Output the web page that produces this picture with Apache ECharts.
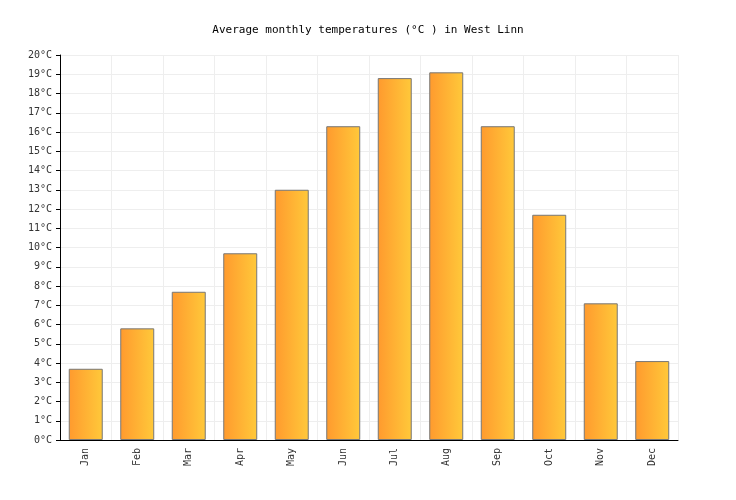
<!DOCTYPE html>
<html><head><meta charset="utf-8">
<script src="https://cdn.jsdelivr.net/npm/echarts@6/dist/echarts.min.js"></script>
<style>html,body{margin:0;padding:0;background:#fff}#c{width:736px;height:500px}</style>
</head><body><div id="c"></div>
<script>
const categories=["Jan","Feb","Mar","Apr","May","Jun","Jul","Aug","Sep","Oct","Nov","Dec"];
const temps=[3.7,5.8,7.7,9.7,13.0,16.3,18.8,19.1,16.3,11.7,7.1,4.1];
const titleText="Average monthly temperatures (°C ) in West Linn";
const font="DejaVu Sans Mono";
const chart=echarts.init(document.getElementById('c'));
chart.setOption({
  animation:false,
  title:{text:titleText,left:'center',top:20,textStyle:{fontFamily:font,fontSize:11,fontWeight:'normal',color:'#000'}},
  grid:{left:60,right:58,top:55,bottom:60},
  xAxis:{type:'category',data:categories,
    axisLine:{lineStyle:{color:'#000'}},axisTick:{show:false},
    axisLabel:{rotate:90,fontFamily:font,fontSize:10,color:'#333',margin:8},
    splitLine:{show:true,lineStyle:{color:'#eee'}}},
  yAxis:{type:'value',min:0,max:20,interval:1,
    axisLine:{show:true,lineStyle:{color:'#000'}},axisTick:{show:true,length:4,lineStyle:{color:'#000'}},
    axisLabel:{formatter:'{value}°C',fontFamily:font,fontSize:10,color:'#333'},
    splitLine:{lineStyle:{color:'#eee'}}},
  series:[{type:'bar',data:temps,barWidth:'66%',
    itemStyle:{borderColor:'#777',borderWidth:1,
      color:new echarts.graphic.LinearGradient(0,0,1,0,[{offset:0,color:'#ff9a2e'},{offset:1,color:'#ffc93a'}])}}]
});
</script></body></html>
